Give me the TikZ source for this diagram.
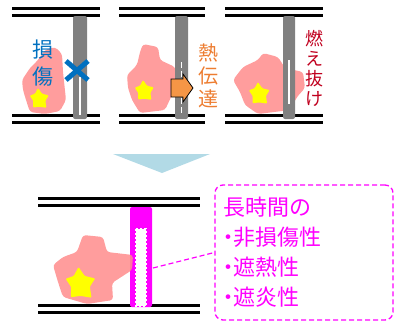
\documentclass[tikz,border=0pt]{standalone}
\usepackage{fontspec}
\newfontfamily\jp{Noto Sans CJK JP}
\usetikzlibrary{positioning}
\definecolor{flamepink}{RGB}{255,140,140}
\definecolor{sparkyellow}{RGB}{255,255,0}
\definecolor{pipegray}{RGB}{128,128,128}
\definecolor{damageblue}{RGB}{0,112,192}
\definecolor{heatorange}{RGB}{237,125,49}
\definecolor{arroworange}{RGB}{245,150,70}
\definecolor{burnred}{RGB}{192,0,30}
\definecolor{fuchsia}{RGB}{255,0,255}
\definecolor{skyblue}{RGB}{178,218,230}
\newcommand\pt{\makebox[10pt][c]{・}}
\tikzset{
  flame/.style={fill=flamepink,opacity=.85,rounded corners=3pt},
  pipe/.style={fill=pipegray,rounded corners=2pt},
  vtext/.style={text=#1,align=center,inner sep=0pt},
  callout box/.style={draw=fuchsia,dash pattern=on 5pt off 3pt,line width=1.3pt,
    rounded corners=8pt,minimum width=178pt,minimum height=135pt,text width=162pt,
    inner xsep=8pt,align=left,text=fuchsia,font=\jp\fontsize{22}{30}\selectfont},
  % pictograms
  pics/slab/.style={code={
    \fill[black] (0,0) rectangle (#1,3);
    \fill[black] (0,7) rectangle (#1,10);
  }},
  pics/slab/.default=88,
  pics/spark/.style={code={
    \fill[sparkyellow,rounded corners=1pt] (-95:#1) -- (-60:{.55*#1}) -- (-20:{.95*#1})
      -- (15:{.6*#1}) -- (50:{1.05*#1}) -- (88:{.7*#1}) -- (125:{.95*#1}) -- (160:{.55*#1})
      -- (200:{.9*#1}) -- (232:{.6*#1}) -- cycle;
  }},
  pics/spark/.default=11,
}
\begin{document}
\begin{tikzpicture}[x=1pt,y=-1pt]
  \useasboundingbox (0,0) rectangle (395,332);
  % floors
  \pic at (12,7) {slab=88}; \pic at (12,114) {slab=88};
  \pic at (119,7) {slab=86}; \pic at (119,114) {slab=86};
  \pic at (225,7) {slab=98}; \pic at (225,114) {slab=98};
  \pic at (38,197) {slab=162}; \pic at (38,304) {slab=162};
  % fires
  \fill[flame] (22,80) -- (30,68) -- (38,60) -- (45,50) -- (55,47) -- (62,54) -- (63,72)
    -- (66,100) -- (60,111) -- (45,114) -- (30,112) -- (26,100) -- (23,90) -- cycle;
  \fill[flame] (143,44) -- (158,47) -- (160,60) -- (175,67) -- (178,80) -- (172,95)
    -- (165,110) -- (140,113) -- (132,100) -- (128,88) -- (127,75) -- (137,65) -- (140,52) -- cycle;
  \fill[flame] (243,67) -- (258,60) -- (263,53) -- (278,57) -- (285,68) -- (303,72)
    -- (305,88) -- (297,97) -- (290,110) -- (258,114) -- (245,105) -- (240,92) -- (233,80) -- cycle;
  \pic at (39,99) {spark};
  \pic at (144,91) {spark};
  \pic at (259,94) {spark=12};
  % pipes
  \fill[pipe] (73,16) rectangle (87,119);
  \draw[white,line width=1.6pt] (80,77) -- (80,115);
  \fill[pipe] (175,16) rectangle (188,119);
  \draw[white,line width=1.6pt,dash pattern=on 6pt off 3pt] (181.5,62) -- (181.5,113);
  \fill[pipe] (283,16) rectangle (295,119);
  \draw[white,line width=2.5pt] (289,60) -- (289,104);
  % cross, heat arrow
  \draw[damageblue,line width=5pt] (66,61) -- (88,80) (66,80) -- (88,61);
  \draw[black,fill=arroworange,line width=.8pt] (171,79) -- (183,79) -- (183,74) -- (193,88)
    -- (183,102) -- (183,97) -- (171,97) -- cycle;
  \node[vtext=damageblue,font=\jp\fontsize{21}{27}\selectfont] (damage) at (43,63) {損\\傷};
  \node[vtext=heatorange,font=\jp\fontsize{20}{23}\selectfont] (transfer) at (208,76) {熱\\伝\\達};
  \node[vtext=burnred,font=\jp\fontsize{18}{20}\selectfont] (burn) at (314,68) {燃\\え\\抜\\け};
  % step down
  \fill[skyblue] (113,154) -- (210,154) -- (162,173) -- cycle;
  % sealed pipe
  \fill[pipe,fuchsia] (130,207) rectangle (152,307);
  \fill[white] (136,229) rectangle (146,306);
  \draw[white,line width=2pt,dotted] (136,229) rectangle (146,306);
  \fill[flame] (77,252) -- (83,235) -- (103,237) -- (107,252) -- (133,255) -- (132,270)
    -- (112,283) -- (113,300) -- (87,304) -- (63,297) -- (58,282) -- (53,265) -- (63,257) -- cycle;
  \pic at (80,284) {spark=17};
  \node[callout box] (callout) at (304,252.5) {長時間の\\\pt 非損傷性\\\pt 遮熱性\\\pt 遮炎性};
  \coordinate (seal) at (153,268);
  \draw[fuchsia,dash pattern=on 5pt off 3pt,line width=1.2pt] (seal) -- (callout.west);
\end{tikzpicture}
\end{document}
